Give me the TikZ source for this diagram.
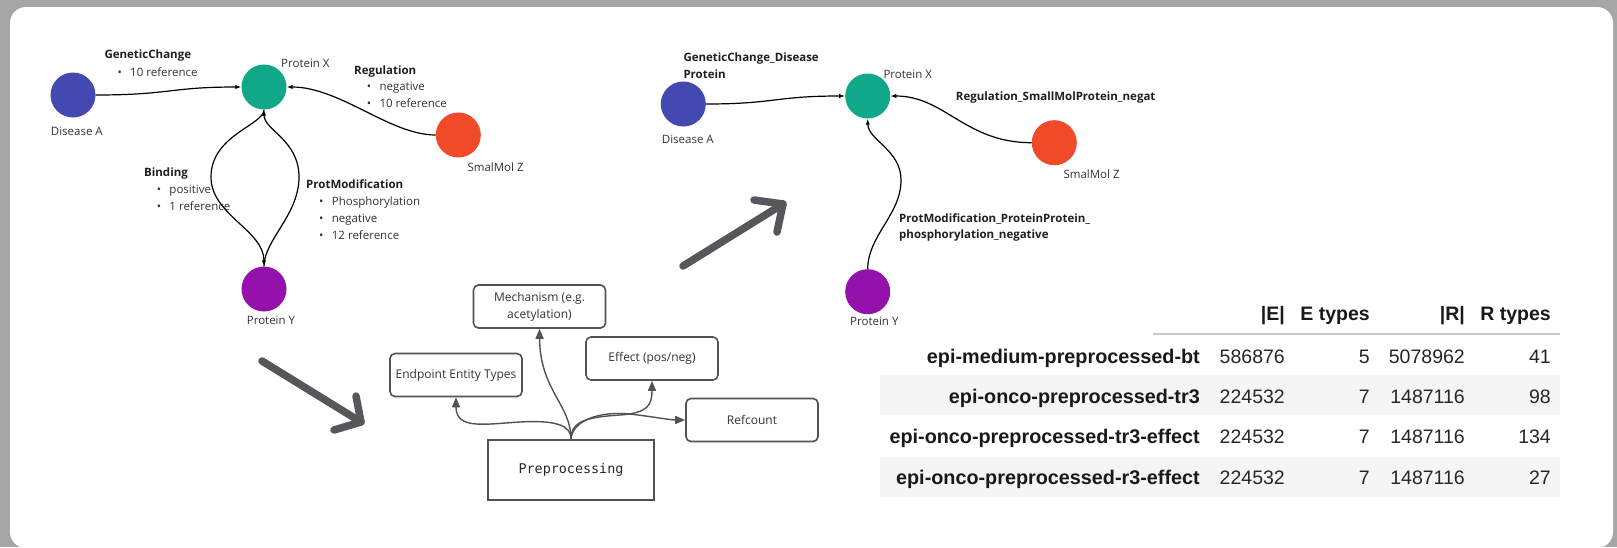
\documentclass[tikz,border=0pt]{standalone}
\usepackage{fontspec}
\setmainfont{Open Sans}
\newfontfamily\tabfont{Liberation Sans}
\newfontfamily\ppfont{DejaVu Sans Mono}
\usetikzlibrary{arrows.meta}
\definecolor{diseaseblue}{RGB}{67,73,176}
\definecolor{protteal}{RGB}{16,168,137}
\definecolor{molred}{RGB}{240,74,40}
\definecolor{protpurple}{RGB}{148,18,171}
\definecolor{boxgray}{RGB}{80,82,86}
\definecolor{arrowgray}{RGB}{85,87,91}
\definecolor{txtgray}{RGB}{51,51,51}
\definecolor{stripecol}{RGB}{245,245,245}
\definecolor{hlinecol}{RGB}{200,200,200}
\definecolor{framecol}{RGB}{166,166,166}
\newcommand{\blt}{\makebox[12.7pt][l]{\textbullet}}
\begin{document}
\begin{tikzpicture}[x=1pt,y=-1pt,
  ent/.style={circle, minimum size=45pt, inner sep=0pt, draw=none},
  lbl/.style={inner sep=0pt, anchor=base west, text=txtgray, font=\fontsize{11.5}{14}\selectfont},
  hdr/.style={inner sep=0pt, anchor=base west, text=black!88, font=\fontsize{11.5}{14}\selectfont\bfseries},
  edge/.style={line width=1.2pt, draw=black, -{Latex[length=6pt,width=4.5pt]}},
  bigarrow/.style={draw=arrowgray, line width=7.5pt, line cap=round, line join=round},
  box/.style={draw=boxgray, line width=1.6pt, rounded corners=5pt, minimum width=132pt, minimum height=43pt, inner sep=0pt, text=txtgray, font=\fontsize{12}{17}\selectfont, align=center},
  ppbox/.style={draw=boxgray, line width=2.5pt, minimum width=166pt, minimum height=60pt, inner sep=0pt, text=black!85, font=\ppfont\fontsize{13.4}{16}\selectfont},
  conn/.style={draw=boxgray, line width=1.4pt, -{Triangle[length=10pt,width=8pt]}},
  thdr/.style={inner sep=0pt, anchor=base east, text=black!90, font=\tabfont\fontsize{19.5}{22}\selectfont\bfseries},
  tlab/.style={inner sep=0pt, anchor=base east, text=black!90, font=\tabfont\fontsize{19.8}{22}\selectfont\bfseries},
  tnum/.style={inner sep=0pt, anchor=base east, text=black!85, font=\tabfont\fontsize{19.5}{22}\selectfont}
]
\useasboundingbox (0,0) rectangle (1617,547);
\fill[framecol] (0,0) rectangle (1617,547);
\fill[white, rounded corners=16pt] (10,7) rectangle (1613,548);

% ---------- left graph ----------
\node[ent, fill=diseaseblue] (dA) at (73,95) {};
\node[ent, fill=protteal] (pX) at (264,87) {};
\node[ent, fill=molred] (sZ) at (458.3,135) {};
\node[ent, fill=protpurple] (pY) at (264,289) {};

\draw[edge] (dA.east) .. controls (170,95) and (170,87) .. (pX.west);
\draw[edge] (sZ.west) .. controls (390,135) and (340,87) .. (pX.east);
\draw[edge] (pX.south) .. controls (264,125) and (211,135) .. (211,177) .. controls (211,215) and (264,230) .. (pY.north);
\draw[edge] (pY.north) .. controls (264,240) and (299,215) .. (299,177) .. controls (299,140) and (264,130) .. (pX.south);

\node[lbl] (lPX) at (281,67) {Protein X};
\node[lbl] (lDA) at (50.7,135) {Disease A};
\node[lbl] (lSZ) at (467.3,171) {SmalMol Z};
\node[lbl] (lPY) at (246.7,324) {Protein Y};

\node[hdr] (hGC) at (104.3,58) {GeneticChange};
\node[lbl] (gc1) at (117.3,76) {\blt 10 reference};
\node[hdr] (hRG) at (354,74) {Regulation};
\node[lbl] (rg1) at (366.6,90) {\blt negative};
\node[lbl] (rg2) at (366.6,107) {\blt 10 reference};
\node[hdr] (hBD) at (144,176) {Binding};
\node[lbl] (bd1) at (156.6,193) {\blt positive};
\node[lbl] (bd2) at (156.6,210) {\blt 1 reference};
\node[hdr] (hPM) at (306,188) {ProtModification};
\node[lbl] (pm1) at (319,205) {\blt Phosphorylation};
\node[lbl] (pm2) at (319,222) {\blt negative};
\node[lbl] (pm3) at (319,239) {\blt 12 reference};

% ---------- big arrows ----------
\draw[bigarrow] (262,361) -- (361,422);
\draw[bigarrow] (356,396) -- (361,422) -- (334,430);
\draw[bigarrow] (683,266) -- (783,204);
\draw[bigarrow] (754,200) -- (783,204) -- (777,232);

% ---------- preprocessing ----------
\node[box] (MC) at (539.5,306.5) {Mechanism (e.g.\\acetylation)};
\node[box] (EP) at (456,375) {Endpoint Entity Types};
\node[box] (EF) at (652,358.5) {Effect (pos/neg)};
\node[box] (RC) at (752,420) {Refcount};
\node[ppbox] (PP) at (571,470) {Preprocessing};

\draw[conn] (PP.north) .. controls (571,425) and (555,420) .. (520,422) .. controls (485,424) and (456,430) .. (EP.south);
\draw[conn] (PP.north) .. controls (571,405) and (540,390) .. (MC.south);
\draw[conn] (PP.north) .. controls (571,420) and (590,417) .. (620,415) .. controls (648,413) and (652,405) .. (EF.south);
\draw[conn] (PP.north) .. controls (573,420) and (600,411) .. (630,414) .. controls (655,417) and (670,420) .. (RC.west);

% ---------- right graph ----------
\node[ent, fill=diseaseblue] (dA2) at (683.3,104) {};
\node[ent, fill=protteal] (pX2) at (867.7,96) {};
\node[ent, fill=molred] (sZ2) at (1054.3,142.7) {};
\node[ent, fill=protpurple] (pY2) at (867.7,291.7) {};

\draw[edge] (dA2.east) .. controls (775,104) and (775,96) .. (pX2.west);
\draw[edge] (sZ2.west) .. controls (965,142.7) and (945,96) .. (pX2.east);
\draw[edge] (pY2.north) .. controls (868,235) and (901,215) .. (901,180) .. controls (901,150) and (868,140) .. (pX2.south);

\node[lbl] (lDA2) at (661.7,143) {Disease A};
\node[lbl] (lPX2) at (883.3,78) {Protein X};
\node[lbl] (lSZ2) at (1063.3,178) {SmalMol Z};
\node[lbl] (lPY2) at (850,325) {Protein Y};
\node[hdr] (rGC1) at (683.3,61) {GeneticChange\_Disease};
\node[hdr] (rGC2) at (683.3,78) {Protein};
\node[hdr] (rRG) at (955.7,100) {Regulation\_SmallMolProtein\_negat};
\node[hdr] (rPM1) at (899,222) {ProtModification\_ProteinProtein\_};
\node[hdr] (rPM2) at (899,238) {phosphorylation\_negative};

% ---------- table ----------
\fill[stripecol] (880,375) rectangle (1560,415);
\fill[stripecol] (880,457) rectangle (1560,497);
\draw[hlinecol, line width=2pt] (1153,334) -- (1560,334);

\node[thdr] (hE) at (1285,320) {|E|};
\node[thdr] (hEt) at (1370,320) {E types};
\node[thdr] (hR) at (1465,320) {|R|};
\node[thdr] (hRt) at (1551,320) {R types};

\node[tlab] (r1) at (1200,363) {epi-medium-preprocessed-bt};
\node[tnum] (r1a) at (1285,363) {586876};
\node[tnum] (r1b) at (1370,363) {5};
\node[tnum] (r1c) at (1465,363) {5078962};
\node[tnum] (r1d) at (1551,363) {41};

\node[tlab] (r2) at (1200,403) {epi-onco-preprocessed-tr3};
\node[tnum] (r2a) at (1285,403) {224532};
\node[tnum] (r2b) at (1370,403) {7};
\node[tnum] (r2c) at (1465,403) {1487116};
\node[tnum] (r2d) at (1551,403) {98};

\node[tlab] (r3) at (1200,443) {epi-onco-preprocessed-tr3-effect};
\node[tnum] (r3a) at (1285,443) {224532};
\node[tnum] (r3b) at (1370,443) {7};
\node[tnum] (r3c) at (1465,443) {1487116};
\node[tnum] (r3d) at (1551,443) {134};

\node[tlab] (r4) at (1200,484) {epi-onco-preprocessed-r3-effect};
\node[tnum] (r4a) at (1285,484) {224532};
\node[tnum] (r4b) at (1370,484) {7};
\node[tnum] (r4c) at (1465,484) {1487116};
\node[tnum] (r4d) at (1551,484) {27};
\end{tikzpicture}
\end{document}
